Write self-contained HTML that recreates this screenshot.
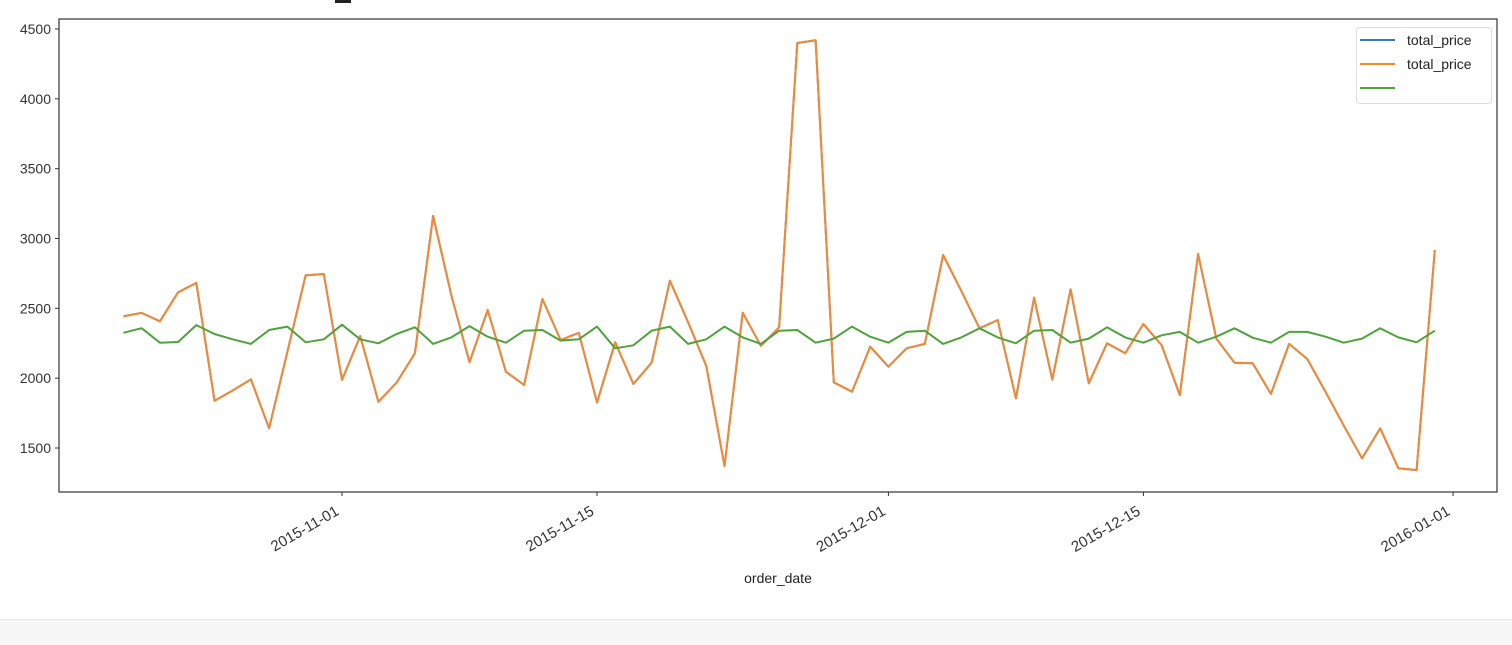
<!DOCTYPE html>
<html><head><meta charset="utf-8"><style>
body{margin:0;background:#fff;width:1512px;height:644px;overflow:hidden;font-family:"Liberation Sans","DejaVu Sans",sans-serif}
#strip{position:absolute;left:0;top:619px;width:1512px;height:25px;background:#f7f7f7;border-top:1px solid #e4e4e4}
#mark{position:absolute;left:335px;top:0;width:16px;height:3px;background:#222}
</style></head><body>
<div id="mark"></div>
<svg id="chart" width="1512" height="619" style="position:absolute;left:0;top:0"></svg>
<div id="strip"></div>
<script>
const startDate = "2015-10-20";
const seriesA = [2443,2467,2407,2615,2682,1838,1912,1992,1641,2189,2736,2746,1987,2302,1831,1968,2178,3161,2595,2114,2488,2046,1951,2567,2273,2325,
1826,2257,1958,2111,2698,2400,2087,1371,2469,2232,2364,4400,4420,1970,1903,2225,2082,2214,2245,2882,2625,2357,2416,1856,2576,1990,
2636,1963,2250,2178,2388,2237,1879,2889,2283,2111,2107,1887,2245,2137,1901,1660,1426,1641,1355,1342,2918];
const seriesB = [2325,2358,2254,2259,2380,2316,2278,2245,2345,2369,2257,2278,2383,2278,2250,2316,2364,2245,2292,2373,2297,2254,2340,2345,2269,2278,
2369,2214,2235,2340,2369,2245,2278,2369,2292,2245,2340,2345,2254,2283,2369,2297,2254,2331,2340,2245,2292,2357,2292,2250,2340,2345,
2254,2283,2364,2292,2254,2307,2331,2254,2297,2357,2290,2254,2331,2331,2297,2254,2283,2357,2292,2257,2340];
const yTicks = [1500,2000,2500,3000,3500,4000,4500];
const xTickLabels = ["2015-11-01","2015-11-15","2015-12-01","2015-12-15","2016-01-01"];
const legendLabels = ["total_price","total_price",""];

const NS="http://www.w3.org/2000/svg";
const svg=document.getElementById('chart');
const L=59,R=1497,T=19,B=492;
const DAY=86400000, t0=Date.parse(startDate);
function dayOf(s){return (Date.parse(s)-t0)/DAY;}
function x(d){return 342+(d-12)*18.214;}
function y(v){return 448-(v-1500)*(419/3000);}
function el(tag,attrs,parent){const e=document.createElementNS(NS,tag);for(const k in attrs)e.setAttribute(k,attrs[k]);(parent||svg).appendChild(e);return e;}

yTicks.forEach(v=>{
  const g=el('g',{});
  
  
  el('line',{x1:L-4,x2:L,y1:y(v),y2:y(v),stroke:'#333','stroke-width':1},g);
  const t=el('text',{x:L-8,y:y(v)+5,'text-anchor':'end','font-size':14,fill:'#333'},g);
  t.textContent=v;
});
xTickLabels.forEach(s=>{
  const xx=x(dayOf(s));
  const g=el('g',{});
  
  
  el('line',{x1:xx,x2:xx,y1:B,y2:B+4,stroke:'#333','stroke-width':1},g);
  const t=el('text',{x:0,y:0,'text-anchor':'end','font-size':15,fill:'#333',transform:`translate(${xx-2},${B+22}) rotate(-30)`},g);
  t.textContent=s;
});
const xl=el('text',{x:778,y:583,'text-anchor':'middle','font-size':14,fill:'#222'});


xl.textContent='order_date';

function line(vals,color,name){
  const p=vals.map((v,i)=>(i?'L':'M')+x(i).toFixed(1)+','+y(v).toFixed(1)).join(' ');
  const e=el('path',{d:p,fill:'none',stroke:color,'stroke-width':2,'stroke-linejoin':'round'});
  
  
}
line(seriesA,'#3b78b5','series-total-price-blue');
line(seriesA,'#f28a35','series-total-price-orange');
line(seriesB,'#4ea33a','series-green');

const frame=el('rect',{x:L,y:T,width:R-L,height:B-T,fill:'none',stroke:'#333','stroke-width':1.2});



const lg=el('g',{});


el('rect',{x:1356.5,y:27.5,width:135,height:76,rx:3,fill:'#fff',stroke:'#ddd'},lg);
const colors=['#3b78b5','#f28a35','#4ea33a'];
legendLabels.forEach((lab,i)=>{
  const yy=40+i*24;
  const g=el('g',{},lg);
  
  
  el('line',{x1:1360,x2:1395,y1:yy,y2:yy,stroke:colors[i],'stroke-width':2},g);
  const t=el('text',{x:1407,y:yy+5,'font-size':14,fill:'#222'},g);
  t.textContent=lab;
});
</script>
</body></html>
